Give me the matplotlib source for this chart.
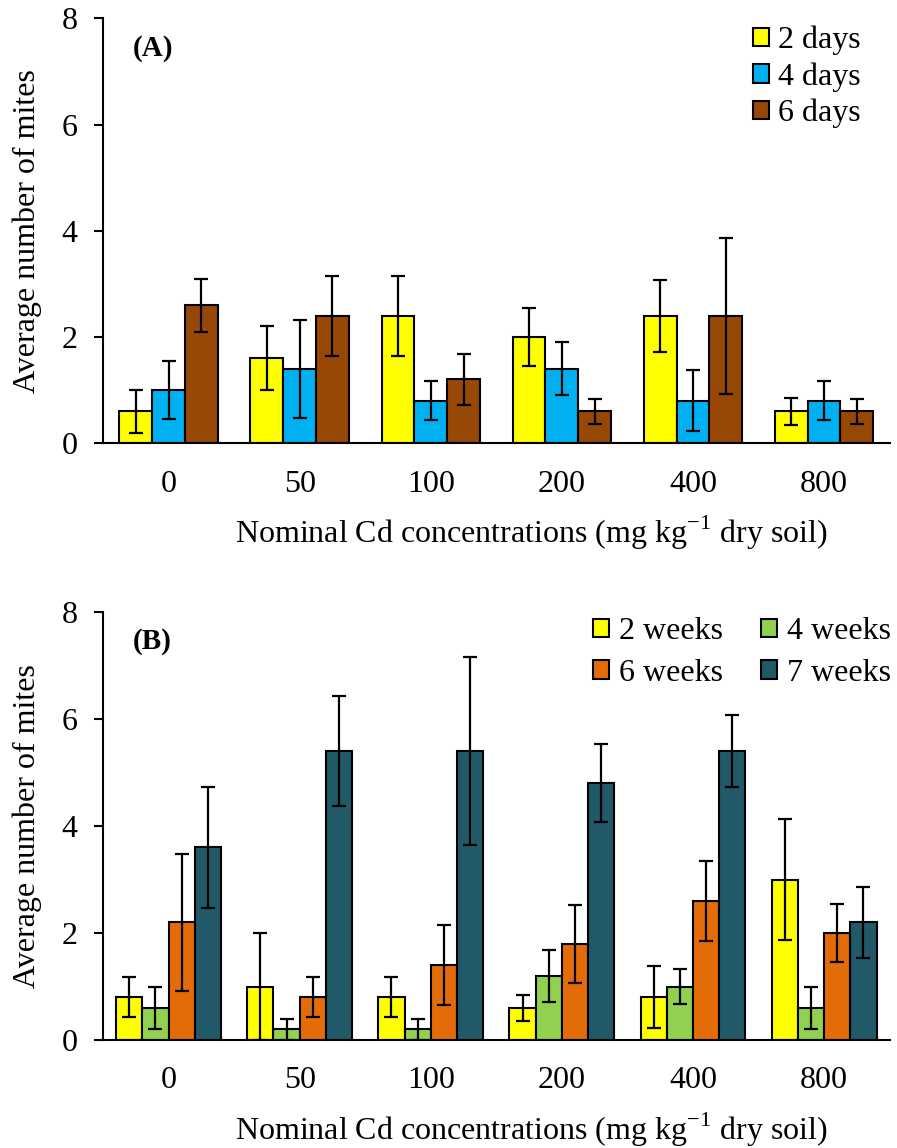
import matplotlib
matplotlib.use("Agg")
import matplotlib.pyplot as plt
import numpy as np

# --------- Dados ---------
concentracoes = ["0", "50", "100", "200", "400", "800"]

# Painel A (dias)
rotulos_a = ["2 days", "4 days", "6 days"]
cores_a = ["#FFFF00", "#00B0F0", "#974706"]
media_2d = [0.6, 1.6, 2.4, 2.0, 2.4, 0.6]
erro_2d = [0.4, 0.6, 0.75, 0.55, 0.68, 0.25]
media_4d = [1.0, 1.4, 0.8, 1.4, 0.8, 0.8]
erro_4d = [0.55, 0.92, 0.37, 0.5, 0.58, 0.37]
media_6d = [2.6, 2.4, 1.2, 0.6, 2.4, 0.6]
erro_6d = [0.5, 0.75, 0.48, 0.24, 1.47, 0.24]

# Painel B (semanas)
rotulos_b = ["2 weeks", "4 weeks", "6 weeks", "7 weeks"]
cores_b = ["#FFFF00", "#92D050", "#E36C09", "#215968"]
media_2s = [0.8, 1.0, 0.8, 0.6, 0.8, 3.0]
erro_2s = [0.37, 1.0, 0.37, 0.24, 0.58, 1.13]
media_4s = [0.6, 0.2, 0.2, 1.2, 1.0, 0.6]
erro_4s = [0.4, 0.2, 0.2, 0.49, 0.32, 0.4]
media_6s = [2.2, 0.8, 1.4, 1.8, 2.6, 2.0]
erro_6s = [1.28, 0.37, 0.75, 0.73, 0.75, 0.55]
media_7s = [3.6, 5.4, 5.4, 4.8, 5.4, 2.2]
erro_7s = [1.13, 1.02, 1.75, 0.73, 0.68, 0.66]

plt.rcParams['font.family'] = ['Liberation Serif', 'DejaVu Serif']
plt.rcParams['mathtext.fontset'] = 'custom'
plt.rcParams['mathtext.rm'] = 'Liberation Serif'

fig = plt.figure(figsize=(8.97, 11.48), dpi=100)
ax_a = fig.add_axes([0.1148, 0.614, 0.877, 0.370])
ax_b = fig.add_axes([0.1148, 0.094, 0.877, 0.373])

FS = 23


def desenha(ax, medias, erros, cores, rotulos, largura_grupo, painel):
    x = np.arange(len(concentracoes))
    n = len(medias)
    w = largura_grupo / n
    barras = []
    for i in range(n):
        pos = x - largura_grupo / 2 + w * (i + 0.5)
        b = ax.bar(pos, medias[i], w, color=cores[i], edgecolor='black',
                   linewidth=1.5, label=rotulos[i], zorder=2)
        barras.append(b)
        ax.errorbar(pos, medias[i], yerr=erros[i], fmt='none', ecolor='black',
                    elinewidth=1.6, capsize=5, capthick=1.6, zorder=3)
    ax.set_xlim(-0.5, 5.5)
    ax.set_ylim(0, 8)
    ax.set_yticks([0, 2, 4, 6, 8])
    ax.set_xticks(x)
    ax.set_xticklabels(concentracoes)
    ax.tick_params(axis='x', length=0, pad=19, labelsize=FS)
    ax.tick_params(axis='y', length=6.5, width=1.5, direction='out', labelsize=FS, pad=12)
    ax.spines['top'].set_visible(False)
    ax.spines['right'].set_visible(False)
    ax.spines['left'].set_linewidth(1.5)
    ax.spines['bottom'].set_linewidth(1.5)
    ax.set_ylabel('Average number of mites', fontsize=FS, labelpad=14)
    ax.set_xlabel(r'Nominal Cd concentrations (mg kg$^{\mathregular{-1}}$ dry soil)',
                  fontsize=FS, labelpad=11, x=0.545)
    ax.text(0.038, 0.93, painel, transform=ax.transAxes, fontsize=21,
            fontweight='bold', va='center')
    return barras


barras_a = desenha(ax_a, [media_2d, media_4d, media_6d], [erro_2d, erro_4d, erro_6d],
                   cores_a, rotulos_a, 0.75, '(A)')
ax_a.legend(loc='upper right', frameon=False, fontsize=FS,
            handlelength=0.5, handleheight=0.5, handletextpad=0.3,
            labelspacing=0.22, bbox_to_anchor=(0.992, 1.035),
            borderaxespad=0.3)

barras_b = desenha(ax_b, [media_2s, media_4s, media_6s, media_7s],
                   [erro_2s, erro_4s, erro_6s, erro_7s],
                   cores_b, rotulos_b, 0.8, '(B)')
ordem = [0, 2, 1, 3]
ax_b.legend([barras_b[i] for i in ordem], [rotulos_b[i] for i in ordem],
            loc='upper right', ncol=2, frameon=False, fontsize=FS,
            handlelength=0.5, handleheight=0.5, handletextpad=0.3,
            labelspacing=0.4, columnspacing=1.2, bbox_to_anchor=(1.03, 1.04),
            borderaxespad=0.3)

fig.savefig('out.png', dpi=100)
